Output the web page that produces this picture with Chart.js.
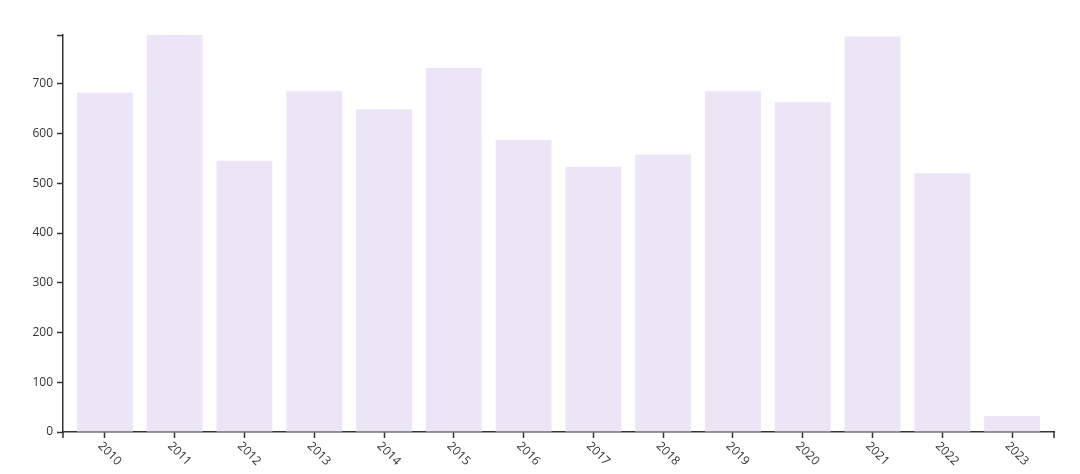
<!DOCTYPE html>
<html>
<head>
<meta charset="utf-8">
<script src="https://cdn.jsdelivr.net/npm/chart.js@4"></script>
<style>
  body { margin: 0; background: #fff; }
  #wrap { width: 1080px; height: 474px; }
</style>
</head>
<body>
<div id="wrap"><canvas id="my-chart" width="1080" height="474"></canvas></div>
<script>
const years = ['2010', '2011', '2012', '2013', '2014', '2015', '2016', '2017', '2018', '2019', '2020', '2021', '2022', '2023'];
const counts = [682, 798, 545, 685, 649, 732, 587, 533, 558, 685, 663, 795, 520, 32];
const yTicks = [0, 100, 200, 300, 400, 500, 600, 700];

const axisColor = '#333';
const barColor = '#ebe5f6';
const yMax = Math.max(...counts);

// x labels are turned clockwise (down-right), which Chart.js can't do itself,
// plus the two outer tick marks at the ends of the x axis
const yearLabels = {
  id: 'yearLabels',
  afterDraw(chart) {
    const x = chart.scales.x;
    const ctx = chart.ctx;
    ctx.save();
    ctx.strokeStyle = axisColor;
    ctx.lineWidth = 1.5;
    ctx.beginPath();
    [x.left, x.right].forEach(px => {
      ctx.moveTo(px, x.top);
      ctx.lineTo(px, x.top + 6);
    });
    ctx.stroke();

    ctx.font = '12px "Open Sans"';
    ctx.fillStyle = axisColor;
    ctx.textAlign = 'left';
    ctx.textBaseline = 'middle';
    years.forEach((yr, i) => {
      const px = x.getPixelForValue(i);
      ctx.save();
      ctx.translate(px - 5, x.top + 12);
      ctx.rotate(Math.PI / 4);
      ctx.fillText(yr, 0, 0);
      ctx.restore();
    });
    ctx.restore();
  }
};

let myChart;

function createChart() {
  const ctx = document.getElementById('my-chart').getContext('2d');
  if (myChart) myChart.destroy();

  myChart = new Chart(ctx, {
    type: 'bar',
    data: {
      datasets: [{
        data: counts.map((v, i) => ({ x: i, y: v })),
        backgroundColor: barColor,
        borderWidth: 0,
        barPercentage: 0.8,
        categoryPercentage: 1
      }]
    },
    options: {
      responsive: false,
      animation: false,
      layout: { padding: { top: 35, right: 26, left: 0, bottom: 0 } },
      plugins: {
        legend: { display: false },
        tooltip: { enabled: false }
      },
      scales: {
        x: {
          type: 'linear',
          min: -0.6,
          max: years.length - 0.4,
          offset: false,
          afterBuildTicks: (s) => {
            s.ticks = years.map((_, i) => ({ value: i }));
          },
          afterFit: (s) => { s.height = 42; },
          grid: {
            offset: false,
            drawOnChartArea: false,
            drawTicks: true,
            tickLength: 6,
            tickColor: axisColor,
            tickWidth: 1.5
          },
          border: { color: axisColor, width: 1.5 },
          ticks: { display: false }
        },
        y: {
          min: 0,
          max: yMax,
          afterBuildTicks: (s) => {
            s.ticks = [...yTicks, yMax].map(v => ({ value: v }));
          },
          afterFit: (s) => { s.width = 63; },
          grid: {
            drawOnChartArea: false,
            drawTicks: true,
            tickLength: 6,
            tickColor: axisColor,
            tickWidth: 1.5
          },
          border: { color: axisColor, width: 1.5 },
          ticks: {
            padding: 4,
            color: axisColor,
            font: { family: 'Open Sans', size: 12 },
            callback: (v) => (yTicks.includes(v) ? String(v) : '')
          }
        }
      }
    },
    plugins: [yearLabels]
  });
}

window.onload = function () {
  createChart();
};
</script>
</body>
</html>
